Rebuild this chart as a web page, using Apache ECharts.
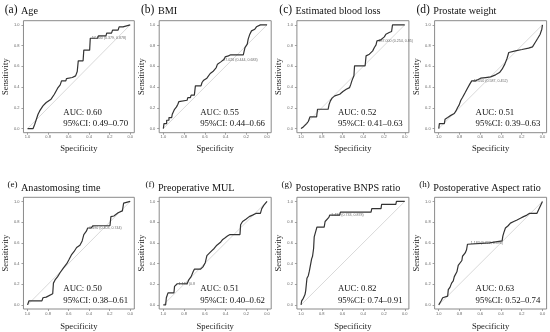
<!DOCTYPE html>
<html><head><meta charset="utf-8">
<script src="https://cdn.jsdelivr.net/npm/echarts@6/dist/echarts.min.js"></script>
<style>html,body{margin:0;padding:0;background:#fff}#c{width:550px;height:332px}</style>
</head><body><div id="c"></div>
<script>
// ---- data ----
const panelLetters = ['(a)','(b)','(c)','(d)','(e)','(f)','(g)','(h)'];
const panelTitles = ['Age','BMI','Estimated blood loss','Prostate weight','Anastomosing time','Preoperative MUL','Postoperative BNPS ratio','Postoperative Aspect ratio'];
const aucValues = ['0.60','0.55','0.52','0.51','0.50','0.51','0.82','0.63'];
const ciLow = ['0.49','0.44','0.41','0.39','0.38','0.40','0.74','0.52'];
const ciHigh = ['0.70','0.66','0.63','0.63','0.61','0.62','0.91','0.74'];
const ticks = [0, 0.2, 0.4, 0.6, 0.8, 1.0];
const diagSpec = [1, 0];
const diagSens = [0, 1];

const ageSpec = [1,0.946,0.93,0.914,0.898,0.882,0.85,0.818,0.771,0.739,0.707,0.682,0.669,0.627,0.621,0.564,0.532,0.516,0.506,0.459,0.452,0.395,0.389,0.318,0.31,0.236,0.229,0.182,0.172,0.118,0.108,0.07,0.064,0];
const ageSens = [0,0,0.042,0.09,0.138,0.17,0.219,0.251,0.283,0.331,0.389,0.421,0.46,0.46,0.482,0.492,0.508,0.55,0.653,0.653,0.756,0.756,0.871,0.871,0.894,0.894,0.92,0.92,0.949,0.949,0.981,0.981,1,1];

const bmiSpec = [1,0.994,0.994,0.968,0.968,0.946,0.946,0.92,0.914,0.898,0.892,0.873,0.86,0.85,0.834,0.771,0.764,0.739,0.732,0.701,0.691,0.637,0.627,0.611,0.58,0.564,0.548,0.522,0.51,0.49,0.478,0.446,0.436,0.414,0.404,0.373,0.35,0.229,0.213,0.191,0.182,0.166,0.15,0.118,0.102,0.064,0];
const bmiSens = [0,0,0.048,0.048,0.08,0.08,0.106,0.106,0.138,0.145,0.186,0.209,0.235,0.26,0.273,0.273,0.299,0.299,0.322,0.322,0.412,0.412,0.444,0.466,0.486,0.498,0.531,0.55,0.566,0.588,0.621,0.643,0.659,0.669,0.691,0.701,0.711,0.711,0.781,0.814,0.862,0.91,0.942,0.958,0.981,1,1];

const eblSpec = [1,0.978,0.962,0.946,0.93,0.92,0.914,0.85,0.841,0.739,0.729,0.717,0.701,0.675,0.627,0.596,0.564,0.532,0.522,0.51,0.5,0.49,0.484,0.382,0.373,0.341,0.325,0.309,0.293,0.277,0.268,0.236,0.229,0.197,0.182,0.15,0.127,0.118,0];
const eblSens = [0,0.016,0.035,0.048,0.068,0.08,0.113,0.113,0.186,0.186,0.235,0.267,0.293,0.315,0.331,0.357,0.379,0.395,0.421,0.46,0.486,0.508,0.605,0.605,0.701,0.717,0.733,0.749,0.781,0.807,0.846,0.852,0.871,0.884,0.91,0.926,0.936,1,1];

const pwSpec = [1,0.994,0.946,0.939,0.914,0.892,0.873,0.85,0.834,0.818,0.803,0.787,0.771,0.745,0.723,0.701,0.682,0.643,0.596,0.548,0.5,0.452,0.414,0.389,0.363,0.341,0.325,0.261,0.197,0.134,0.096,0.07,0.045,0.022,0.006,0];
const pwSens = [0,0.048,0.048,0.09,0.106,0.122,0.122,0.145,0.17,0.203,0.228,0.273,0.299,0.347,0.389,0.428,0.46,0.46,0.486,0.492,0.498,0.518,0.54,0.572,0.621,0.678,0.733,0.749,0.762,0.775,0.788,0.83,0.871,0.91,0.958,1];

const atSpec = [1,0.987,0.86,0.85,0.818,0.803,0.755,0.748,0.732,0.707,0.682,0.65,0.618,0.596,0.573,0.548,0.522,0.49,0.468,0.452,0.427,0.414,0.382,0.363,0.197,0.188,0.159,0.15,0.118,0.076,0.064,0.045,0];
const atSens = [0,0.038,0.038,0.069,0.075,0.091,0.107,0.21,0.241,0.273,0.313,0.357,0.398,0.439,0.483,0.514,0.555,0.577,0.618,0.68,0.712,0.743,0.743,0.765,0.765,0.853,0.859,0.878,0.89,0.909,0.984,1,1];

const mulSpec = [1,0.978,0.971,0.955,0.898,0.892,0.866,0.771,0.755,0.732,0.713,0.701,0.643,0.618,0.596,0.58,0.554,0.532,0.51,0.484,0.468,0.446,0.427,0.404,0.382,0.357,0.261,0.255,0.236,0.204,0.172,0.14,0.108,0.064,0.051,0.032,0];
const mulSens = [0,0,0.069,0.116,0.116,0.179,0.204,0.204,0.241,0.273,0.32,0.345,0.345,0.367,0.408,0.476,0.502,0.524,0.545,0.577,0.586,0.608,0.633,0.649,0.665,0.68,0.68,0.774,0.806,0.828,0.853,0.868,0.884,0.884,0.931,0.962,1];

const bnpsSpec = [1,0.994,0.978,0.962,0.955,0.946,0.943,0.93,0.92,0.904,0.898,0.889,0.879,0.873,0.86,0.847,0.777,0.768,0.752,0.732,0.723,0.627,0.621,0.325,0.318,0.229,0.223,0.086,0.08,0];
const bnpsSens = [0,0.038,0.063,0.1,0.138,0.138,0.257,0.282,0.326,0.345,0.445,0.47,0.545,0.658,0.677,0.752,0.752,0.806,0.821,0.846,0.868,0.868,0.897,0.897,0.931,0.931,0.972,0.972,1,1];

const aspSpec = [1,0.978,0.962,0.946,0.914,0.908,0.892,0.876,0.86,0.85,0.834,0.825,0.812,0.796,0.777,0.771,0.752,0.745,0.732,0.723,0.707,0.51,0.503,0.389,0.382,0.373,0.357,0.331,0.309,0.277,0.245,0.213,0.182,0.15,0.127,0.054,0];
const aspSens = [0,0.038,0.069,0.085,0.085,0.147,0.169,0.21,0.232,0.273,0.288,0.32,0.382,0.395,0.429,0.47,0.47,0.502,0.533,0.586,0.599,0.599,0.618,0.618,0.665,0.696,0.743,0.765,0.79,0.806,0.821,0.837,0.853,0.868,0.884,0.884,1];

const thrSpec = [0.389,0.436,0.268,0.682,0.414,0.866,0.723,0.707];
const thrSens = [0.871,0.659,0.846,0.46,0.743,0.204,0.868,0.599];
const thrText = ['57.500 (0.379, 0.878)','27.026 (0.444, 0.683)','187.000 (0.254, 0.85)','42.050 (0.587, 0.452)','0.490 (0.403, 0.744)','1.150 (0.8','1.430 (0.733, 0.878)','1.183 (0.722, 0.596)'];

const specList = [ageSpec,bmiSpec,eblSpec,pwSpec,atSpec,mulSpec,bnpsSpec,aspSpec];
const sensList = [ageSens,bmiSens,eblSens,pwSens,atSens,mulSens,bnpsSens,aspSens];

// ---- layout ----
const colX = [0, 136.9, 274.6, 412.3];
const rowTop = [20.7, 197.3];
const rowH = [112, 114.4];
const boxOff = 22.3, boxW = 112;
const serif = '"Liberation Serif","Times New Roman",serif';
const sans = '"Liberation Sans",Arial,sans-serif';

const grids = [], xAxes = [], yAxes = [], series = [], graphics = [];
for (let i = 0; i < 8; i++) {
  const r = Math.floor(i / 4), c = i % 4;
  const gx = colX[c] + boxOff, gy = rowTop[r];
  grids.push({left: gx, top: gy, width: boxW, height: rowH[r], show: true, borderColor: '#8a8a8a', borderWidth: 1, backgroundColor: 'transparent', containLabel: false});
  const common = {
    type: 'value', gridIndex: i, min: -0.04, max: 1.04,
    splitLine: {show: false}, axisLine: {show: false, onZero: false},
    axisTick: {show: true, length: 2, customValues: ticks, lineStyle: {color: '#8a8a8a', width: 0.8}},
    axisLabel: {customValues: ticks, formatter: v => v.toFixed(1), fontSize: 4, color: '#666', fontFamily: sans},
    nameLocation: 'middle', nameTextStyle: {fontFamily: serif, fontSize: 8.6, color: '#222'}
  };
  xAxes.push(Object.assign({}, common, {inverse: true, position: 'bottom', name: 'Specificity', nameGap: r ? 13 : 12,
    axisLabel: Object.assign({}, common.axisLabel, {margin: 2.5})}));
  yAxes.push(Object.assign({}, common, {position: 'left', name: 'Sensitivity', nameGap: 10.5,
    axisLabel: Object.assign({}, common.axisLabel, {margin: 4})}));
  series.push({type: 'line', xAxisIndex: i, yAxisIndex: i, silent: true, showSymbol: false, symbol: 'none',
    data: diagSpec.map((v, k) => [v, diagSens[k]]), lineStyle: {color: '#cfcfcf', width: 0.8}, z: 1, animation: false});
  series.push({type: 'line', xAxisIndex: i, yAxisIndex: i, silent: true, showSymbol: false, symbol: 'none',
    data: specList[i].map((v, k) => [v, sensList[i][k]]), lineStyle: {color: '#333', width: 1.2}, z: 3, animation: false});
  series.push({type: 'scatter', xAxisIndex: i, yAxisIndex: i, silent: true, symbolSize: 0,
    data: [[thrSpec[i], thrSens[i]]], animation: false, z: 4,
    label: {show: true, position: 'right', distance: 1.5, formatter: thrText[i], fontSize: 3.6, color: '#444', fontFamily: sans}});
  // titles
  graphics.push({type: 'text', x: colX[c] + 17.5, y: gy - (r ? 12.3 : 10.7), style: {text: panelLetters[i], font: (r ? 9 : 11.5) + 'px ' + serif, fill: '#111', textAlign: 'right', textVerticalAlign: 'middle'}});
  graphics.push({type: 'text', x: colX[c] + 21, y: gy - 9.4, style: {text: panelTitles[i], font: '10.2px ' + serif, fill: '#111', textAlign: 'left', textVerticalAlign: 'middle'}});
  graphics.push({type: 'text', x: colX[c] + 63.3, y: gy + 91.8, style: {text: 'AUC: ' + aucValues[i], font: '8.8px ' + serif, fill: '#111', textAlign: 'left', textVerticalAlign: 'middle'}});
  graphics.push({type: 'text', x: colX[c] + 63.3, y: gy + 103, style: {text: '95%CI: ' + ciLow[i] + '\u2013' + ciHigh[i], font: '8.8px ' + serif, fill: '#111', textAlign: 'left', textVerticalAlign: 'middle'}});
}

const chart = echarts.init(document.getElementById('c'), null, {renderer: 'canvas'});
chart.setOption({backgroundColor: '#fff', animation: false, grid: grids, xAxis: xAxes, yAxis: yAxes, series: series, graphic: graphics});
</script></body></html>
